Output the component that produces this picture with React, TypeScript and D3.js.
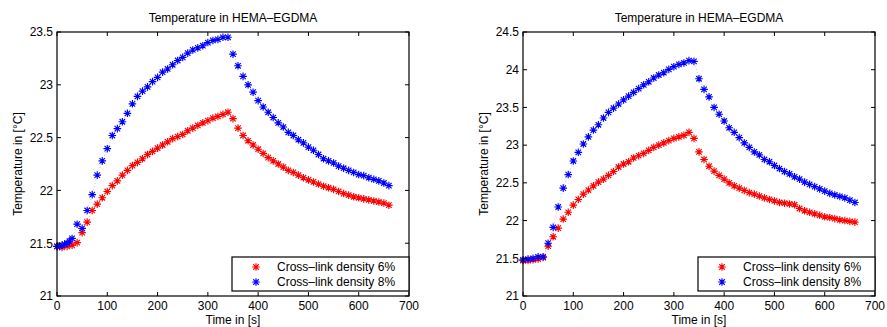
import React from "react";
import * as d3 from "d3";

const timesA: number[] = [0,10,20,30,40,50,60,70,80,90,100,110,120,130,140,150,160,170,180,190,200,210,220,230,240,250,260,270,280,290,300,310,320,330,340,350,360,370,380,390,400,410,420,430,440,450,460,470,480,490,500,510,520,530,540,550,560,570,580,590,600,610,620,630,640,650,660];
const timesBlueLeft: number[] = [0,5,10,15,20,25,30,40,50,60,70,80,90,100,110,120,130,140,150,160,170,180,190,200,210,220,230,240,250,260,270,280,290,300,310,320,330,340,350,360,370,380,390,400,410,420,430,440,450,460,470,480,490,500,510,520,530,540,550,560,570,580,590,600,610,620,630,640,650,660];

const left6: number[] = [21.47,21.46,21.47,21.48,21.505,21.60,21.70,21.81,21.87,21.93,21.99,22.045,22.09,22.145,22.19,22.235,22.265,22.30,22.34,22.37,22.40,22.43,22.46,22.49,22.51,22.53,22.565,22.59,22.615,22.64,22.66,22.685,22.70,22.72,22.74,22.68,22.59,22.52,22.47,22.43,22.39,22.35,22.31,22.28,22.25,22.22,22.19,22.17,22.145,22.12,22.10,22.08,22.06,22.04,22.025,22.01,21.99,21.97,21.955,21.94,21.93,21.92,21.91,21.90,21.89,21.88,21.86];
const left8: number[] = [21.47,21.47,21.48,21.49,21.50,21.52,21.545,21.68,21.64,21.81,21.96,22.145,22.28,22.395,22.52,22.585,22.65,22.73,22.82,22.89,22.94,22.98,23.03,23.07,23.12,23.15,23.19,23.23,23.26,23.30,23.33,23.35,23.37,23.40,23.42,23.43,23.45,23.45,23.29,23.18,23.08,23.00,22.93,22.85,22.79,22.74,22.69,22.64,22.60,22.55,22.52,22.48,22.45,22.41,22.38,22.34,22.30,22.28,22.26,22.23,22.21,22.19,22.17,22.15,22.14,22.12,22.105,22.09,22.07,22.045];
const right6: number[] = [21.47,21.47,21.48,21.49,21.51,21.66,21.785,21.90,22.02,22.11,22.205,22.28,22.35,22.405,22.46,22.51,22.55,22.60,22.65,22.71,22.75,22.78,22.83,22.86,22.89,22.93,22.97,23.00,23.03,23.06,23.09,23.11,23.13,23.17,23.09,22.91,22.81,22.72,22.655,22.60,22.55,22.50,22.46,22.43,22.40,22.37,22.35,22.325,22.30,22.28,22.26,22.24,22.23,22.22,22.21,22.16,22.13,22.11,22.09,22.07,22.05,22.04,22.025,22.01,22.00,21.99,21.98];
const right8: number[] = [21.48,21.49,21.50,21.52,21.52,21.70,21.91,22.18,22.43,22.61,22.79,22.905,23.015,23.11,23.20,23.27,23.36,23.435,23.49,23.545,23.60,23.65,23.70,23.75,23.80,23.84,23.89,23.93,23.96,24.005,24.04,24.07,24.09,24.12,24.11,23.88,23.74,23.64,23.50,23.41,23.32,23.23,23.17,23.10,23.03,22.97,22.91,22.87,22.81,22.78,22.73,22.69,22.65,22.62,22.58,22.55,22.51,22.48,22.45,22.42,22.39,22.36,22.34,22.32,22.30,22.27,22.24];

const xTicks: number[] = [0,100,200,300,400,500,600,700];
const yTicksLeft: number[] = [21,21.5,22,22.5,23,23.5];
const yTicksRight: number[] = [21,21.5,22,22.5,23,23.5,24,24.5];

const title = "Temperature in HEMA\u2013EGDMA";
const xLabel = "Time in [s]";
const yLabel = "Temperature in [\u00B0C]";
const legendLabels = ["Cross\u2013link density 6%", "Cross\u2013link density 8%"];
const colors = ["#ff0000", "#0000ff"];

const FONT = "'Liberation Sans', Arial, Helvetica, sans-serif";

function Asterisk({ x, y, color }: { x: number; y: number; color: string }) {
  const r = 3.8;
  const d = r * 0.72;
  const p = `M${-r},0L${r},0M0,${-r}L0,${r}M${-d},${-d}L${d},${d}M${-d},${d}L${d},${-d}`;
  return <path d={p} transform={`translate(${x},${y})`} stroke={color} strokeWidth={1.15} fill="none" />;
}

type Series = { t: number[]; v: number[]; color: string };

function Panel({ x0, x1, yTicks, series }: { x0: number; x1: number; yTicks: number[]; series: Series[] }) {
  const top = 32, bottom = 296;
  const xs = d3.scaleLinear().domain([0, 700]).range([x0, x1]);
  const ys = d3.scaleLinear().domain([yTicks[0], yTicks[yTicks.length - 1]]).range([bottom, top]);
  const tl = 4;
  const line = d3.line<[number, number]>().x(d => xs(d[0])).y(d => ys(d[1]));
  const cx = (x0 + x1) / 2;
  const legX0 = x1 - 177, legY0 = 257, legW = 177, legH = 34;
  return (
    <g>
      <text x={cx} y={22} textAnchor="middle" fontSize={12} fontFamily={FONT}>{title}</text>
      {series.map((s, i) => (
        <path key={"l" + i} d={line(s.t.map((t, j) => [t, s.v[j]] as [number, number])) || ""}
          fill="none" stroke={s.color} strokeWidth={0.7} strokeDasharray="0.8,2.5" opacity={0.45} />
      ))}
      {series.map((s, i) => (
        <g key={"s" + i}>
          {s.t.map((t, j) => <Asterisk key={j} x={xs(t)} y={ys(s.v[j])} color={s.color} />)}
        </g>
      ))}
      <rect x={x0} y={top} width={x1 - x0} height={bottom - top} fill="none" stroke="#000" strokeWidth={1.2} />
      {xTicks.map(t => (
        <g key={"xt" + t}>
          <line x1={xs(t)} x2={xs(t)} y1={bottom} y2={bottom - tl} stroke="#000" />
          <line x1={xs(t)} x2={xs(t)} y1={top} y2={top + tl} stroke="#000" />
          <text x={xs(t)} y={310} textAnchor="middle" fontSize={12} fontFamily={FONT}>{t}</text>
        </g>
      ))}
      {yTicks.map(v => (
        <g key={"yt" + v}>
          <line x1={x0} x2={x0 + tl} y1={ys(v)} y2={ys(v)} stroke="#000" />
          <line x1={x1} x2={x1 - tl} y1={ys(v)} y2={ys(v)} stroke="#000" />
          <text x={x0 - 4} y={ys(v) + 4.3} textAnchor="end" fontSize={12} fontFamily={FONT}>{String(v)}</text>
        </g>
      ))}
      <text x={cx} y={323.5} textAnchor="middle" fontSize={12} fontFamily={FONT}>{xLabel}</text>
      <text transform={`translate(${x0 - 35},${(top + bottom) / 2}) rotate(-90)`} textAnchor="middle" fontSize={12} fontFamily={FONT}>{yLabel}</text>
      <rect x={legX0} y={legY0} width={legW} height={legH} fill="#fff" stroke="#000" strokeWidth={1.2} />
      {legendLabels.map((lab, i) => (
        <g key={"lg" + i}>
          <Asterisk x={legX0 + 24} y={legY0 + 10 + i * 15} color={colors[i]} />
          <text x={legX0 + 45} y={legY0 + 14.3 + i * 15} fontSize={12} fontFamily={FONT}>{lab}</text>
        </g>
      ))}
    </g>
  );
}

export default function App() {
  return (
    <svg width={887} height={327} style={{ position: "absolute", left: 0, top: 0, background: "#fff" }}>
      <rect width={887} height={327} fill="#fff" />
      <Panel x0={57} x1={409} yTicks={yTicksLeft}
        series={[{ t: timesA, v: left6, color: colors[0] }, { t: timesBlueLeft, v: left8, color: colors[1] }]} />
      <Panel x0={523} x1={875} yTicks={yTicksRight}
        series={[{ t: timesA, v: right6, color: colors[0] }, { t: timesA, v: right8, color: colors[1] }]} />
    </svg>
  );
}
